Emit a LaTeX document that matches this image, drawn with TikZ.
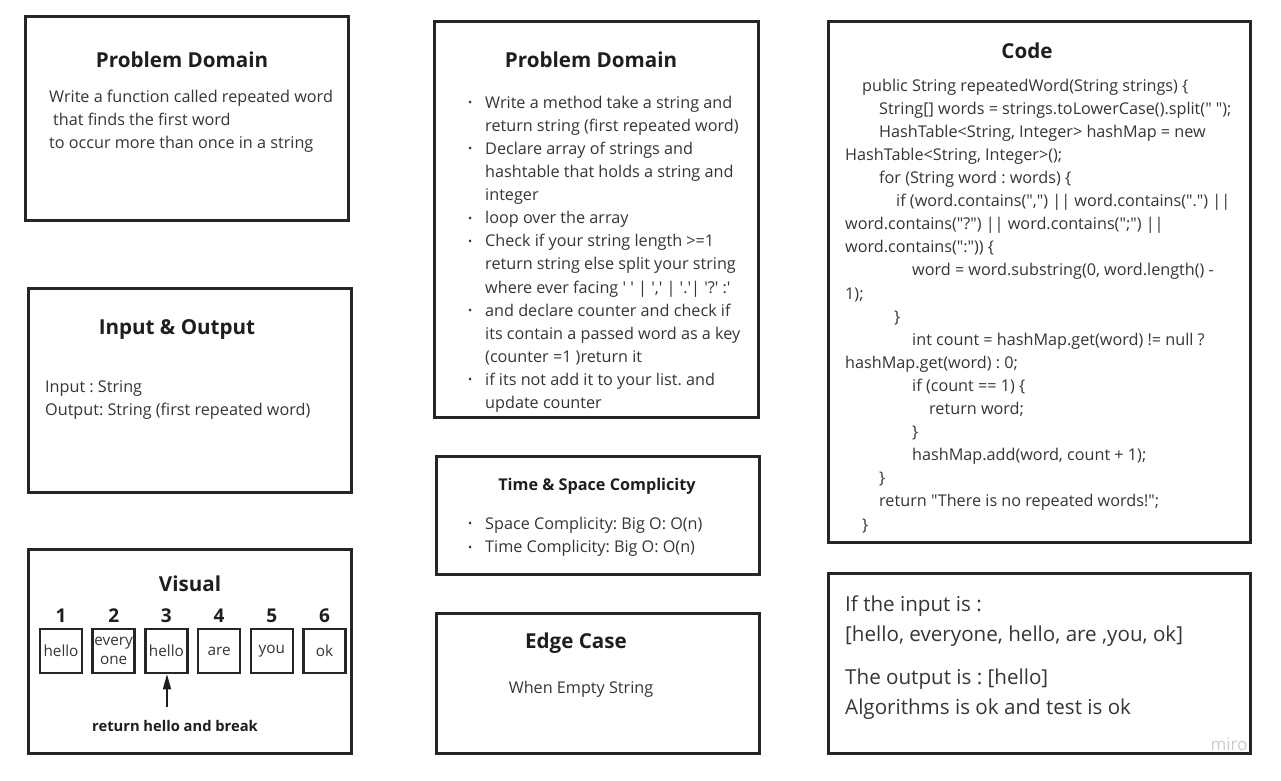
\documentclass[tikz,border=0pt]{standalone}
\usepackage{fontspec}
\setmainfont{Open Sans}[Ligatures=TeXOff]
\usepackage{tikz}
\usetikzlibrary{positioning, arrows.meta}
\definecolor{frame}{HTML}{262626}
\definecolor{ink}{HTML}{1E1E1E}
\definecolor{txt}{HTML}{353535}
\newcommand{\bul}{\makebox[17pt][l]{\raisebox{1.5pt}{\fontsize{11}{11}\selectfont\textbullet}}} % small list dot
\newcommand{\cont}{\hspace*{17pt}} % hanging indent of a list item
\newcommand{\ind}[1]{\hspace*{#1pt}} % code indent
\newcommand{\sq}{\textquotesingle}
\frenchspacing
\tikzset{
	x=1pt, y=-1pt, % one unit is one pixel of the board
	>={Triangle[length=15pt, width=8pt]}, % long thin arrow head
	card/.style={draw=frame, line width=2.5pt, anchor=north west, inner sep=0pt, outer sep=0pt}, % the big frames
	heading/.style={font=\bfseries\fontsize{20.6}{24}\selectfont, text=ink}, % box titles
	body/.style={align=left, anchor=base west, inner sep=0pt, text=txt, font=\fontsize{16.2}{23.1}\selectfont}, % box text, placed by its last line
	cell/.style={draw=frame, line width=2.5pt, minimum width=42pt, minimum height=44pt, inner sep=0pt, align=center, text=txt, font=\fontsize{15.3}{19}\selectfont}, % array cells
	num/.style={font=\bfseries\fontsize{19}{20}\selectfont, text=ink, above=2pt}, % array index
}

\begin{document}
\begin{tikzpicture}
	\useasboundingbox[fill=white] (0,0) rectangle (1281,780);
	% frames
	\node[card, minimum width=323pt, minimum height=204pt] (task) at (25.5,16.5) {};
	\node[card, minimum width=323pt, minimum height=204pt] (io) at (28.5,288.5) {};
	\node[card, minimum width=323pt, minimum height=204pt] (visual) at (28.5,549.5) {};
	\node[card, minimum width=324pt, minimum height=396pt] (steps) at (434.5,21.5) {};
	\node[card, minimum width=323pt, minimum height=118pt] (bigo) at (436.5,456.5) {};
	\node[card, minimum width=323pt, minimum height=140pt] (edge) at (436.5,613.5) {};
	\node[card, minimum width=422pt, minimum height=521pt] (code) at (828.5,21.5) {};
	\node[card, minimum width=422pt, minimum height=180pt] (test) at (828.5,573.5) {};

	% left column
	\node[heading] (taskT) at (182,60) {Problem Domain};
	\node[body] (taskB) at (49,148.5) {Write a function called repeated word\\ \ind{4}that finds the first word\\to occur more than once in a string};
	\node[heading] (ioT) at (177,329) {Input \& Output};
	\node[body] (ioB) at (45,415.5) {Input : String\\Output: String (first repeated word)};
	\node[heading] (visualT) at (190,584) {Visual};
	\node[cell] (c1) at (61,651) {hello};
	\node[cell, right=8.2pt of c1] (c2) {every\\one};
	\node[cell, right=8.2pt of c2] (c3) {hello};
	\node[cell, right=8.2pt of c3] (c4) {are};
	\node[cell, right=8.2pt of c4] (c5) {you};
	\node[cell, right=8.2pt of c5] (c6) {ok};
	\foreach \i in {1,...,6}
		\node[num] at (c\i.north) {\i};
	\coordinate (tail) at (167,707);
	\draw[->, line width=1.5pt, draw=ink] (tail) -- (tail |- c3.south);
	\node[font=\bfseries\fontsize{14.7}{18}\selectfont, text=ink] (hit) at (175,726) {return hello and break};

	% middle column
	\node[heading] (stepsT) at (591,60) {Problem Domain};
	\node[body] (stepsB) at (468,408.5) {\bul Write a method take a string and\\
		\cont return string (first repeated word)\\
		\bul Declare array of strings and\\
		\cont hashtable that holds a string and\\
		\cont integer\\
		\bul loop over the array\\
		\bul Check if your string length >=1\\
		\cont return string else split your string\\
		\cont where ever facing \sq\ \sq\ | \sq,\sq\ | \sq.\sq| \sq?\sq\ :\sq\\
		\bul and declare counter and check if\\
		\cont its contain a passed word as a key\\
		\cont (counter =1 )return it\\
		\bul if its not add it to your list. and\\
		\cont update counter};
	\node[font=\bfseries\fontsize{16.2}{18}\selectfont, text=ink] (bigoT) at (597,486) {Time \& Space Complicity};
	\node[body] (bigoB) at (468,552.5) {\bul Space Complicity: Big O: O(n)\\\bul Time Complicity: Big O: O(n)};
	\node[heading] (edgeT) at (576,643) {Edge Case};
	\node[text=txt, font=\fontsize{16.2}{18}\selectfont] (edgeB) at (581,689.5) {When Empty String};

	% right column
	\node[heading] (codeT) at (1027,51) {Code};
	\node[body] (codeB) at (845,530) {\ind{17}public String repeatedWord(String strings) \{\\
		\ind{34}String[] words = strings.toLowerCase().split(" ");\\
		\ind{34}HashTable<String, Integer> hashMap = new\\
		HashTable<String, Integer>();\\
		\ind{34}for (String word : words) \{\\
		\ind{51}if (word.contains(",") || word.contains(".") ||\\
		word.contains("?") || word.contains(";") ||\\
		word.contains(":")) \{\\
		\ind{67}word = word.substring(0, word.length() -\\
		1);\\
		\ind{49}\}\\
		\ind{67}int count = hashMap.get(word) != null ?\\
		hashMap.get(word) : 0;\\
		\ind{67}if (count == 1) \{\\
		\ind{84}return word;\\
		\ind{67}\}\\
		\ind{67}hashMap.add(word, count + 1);\\
		\ind{34}\}\\
		\ind{34}return "There is no repeated words!";\\
		\ind{17}\}};
	\node[body, font=\fontsize{20.6}{30}\selectfont] (testIn) at (845,641) {If the input is :\\{}[hello, everyone, hello, are ,you, ok]};
	\node[body, font=\fontsize{20.6}{30}\selectfont] (testOut) at (845,714) {The output is : [hello]\\Algorithms is ok and test is ok};
	\node[text=black!20, font=\fontsize{17}{18}\selectfont] (miro) at (1229,744) {miro};
\end{tikzpicture}
\end{document}
